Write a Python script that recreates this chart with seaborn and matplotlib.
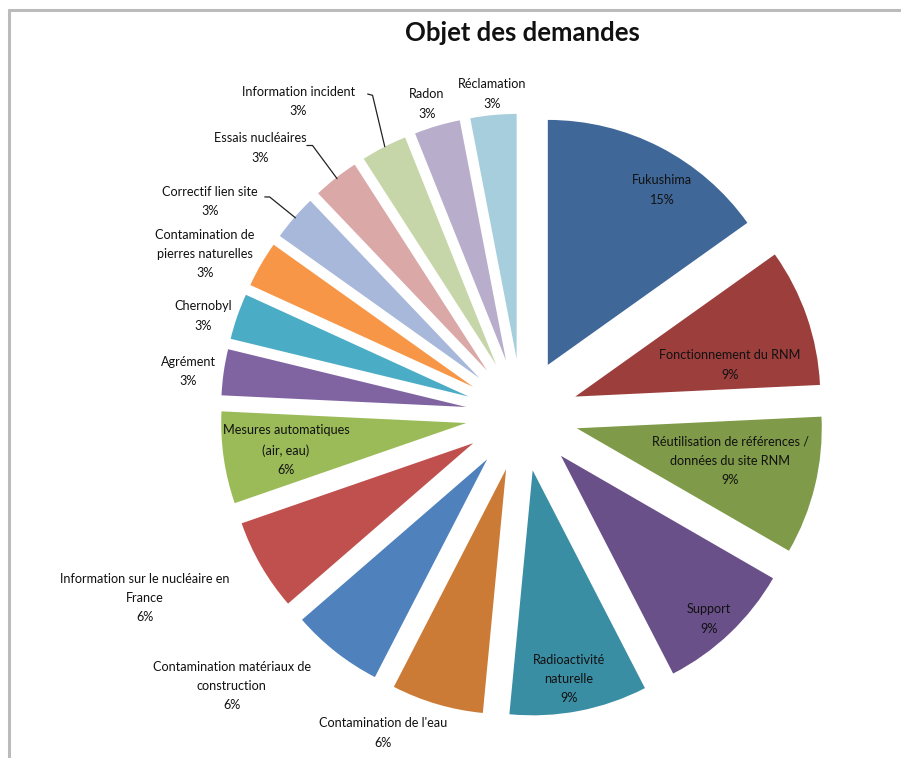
import matplotlib
matplotlib.use("Agg")
import matplotlib.pyplot as plt
from matplotlib import font_manager
import seaborn as sns

sns.set_theme(style="white")

available = {f.name for f in font_manager.fontManager.ttflist}
family = "Lato" if "Lato" in available else "Liberation Sans"
plt.rcParams["font.family"] = [family, "DejaVu Sans"]

# Requests by subject (number of requests)
categories = [
    "Fukushima", "Fonctionnement du RNM",
    "Réutilisation de références /\ndonnées du site RNM", "Support",
    "Radioactivité\nnaturelle", "Contamination de l'eau",
    "Contamination matériaux de\nconstruction",
    "Information sur le nucléaire en\nFrance",
    "Mesures automatiques\n(air, eau)", "Agrément", "Chernobyl",
    "Contamination de\npierres naturelles", "Correctif lien site",
    "Essais nucléaires", "Information incident", "Radon", "Réclamation",
]
counts = [5, 3, 3, 3, 3, 2, 2, 2, 2, 1, 1, 1, 1, 1, 1, 1, 1]
colors = [
    "#3F6798", "#9C3E3C", "#7F9A48", "#6A5089", "#3A8EA4", "#CC7B36",
    "#4F81BD", "#C0504D", "#9BBB59", "#8064A2", "#4BACC6", "#F79646",
    "#A8B8DA", "#DAA8A7", "#C6D6A8", "#B8AECB", "#A7CEDC",
]

# label anchors (data units, pie radius = 1)
label_pos = [
    (0.571, 0.918), (0.849, 0.204), (0.849, -0.188), (0.763, -0.833),
    (0.192, -1.078), (-0.567, -1.298), (-1.184, -1.106), (-1.539, -0.747),
    (-0.963, -0.143), (-1.363, 0.176), (-1.302, 0.404), (-1.294, 0.657),
    (-1.273, 0.873), (-1.069, 1.090), (-0.914, 1.278), (-0.388, 1.269),
    (-0.122, 1.310),
]
# leader lines: label index -> polyline points
leaders = {
    12: [(-1.05, 0.89), (-1.03, 0.89), (-0.925, 0.805)],
    13: [(-0.878, 1.10), (-0.855, 1.10), (-0.755, 0.965)],
    14: [(-0.63, 1.31), (-0.61, 1.305), (-0.56, 1.095)],
}

fig = plt.figure(figsize=(9.01, 7.58), dpi=100)
ax = fig.add_axes([0, 0, 1, 1])

total = sum(counts)
ax.pie(counts, colors=colors, startangle=90, counterclock=False,
       explode=[0.23] * len(counts), radius=1.0,
       wedgeprops=dict(linewidth=0), frame=True)
ax.set_xlim(-522 / 245, (901 - 522) / 245)
ax.set_ylim(-(758 - 415) / 245, 415 / 245)
ax.set_aspect("auto")
ax.axis("off")

for name, c, (x, y) in zip(categories, counts, label_pos):
    pct = round(100 * c / total)
    ax.text(x, y, f"{name}\n{pct}%", ha="center", va="center",
            fontsize=9.1, color="#111111", linespacing=1.72)

for pts in leaders.values():
    xs, ys = zip(*pts)
    ax.plot(xs, ys, color="#222222", lw=0.9)

fig.text(522 / 901, 1 - 33 / 758, "Objet des demandes", ha="center",
         va="center", fontsize=18.5, fontweight="bold", color="#111111")

# chart frame (top and left edges)
fig.add_artist(plt.Line2D([8.5 / 901, 1], [1 - 9.5 / 758, 1 - 9.5 / 758],
                          color="#BBBBBB", lw=2.2))
fig.add_artist(plt.Line2D([8.5 / 901, 8.5 / 901], [0, 1 - 9.5 / 758],
                          color="#BBBBBB", lw=2.2))

fig.savefig("out.png", dpi=100, facecolor="white")
